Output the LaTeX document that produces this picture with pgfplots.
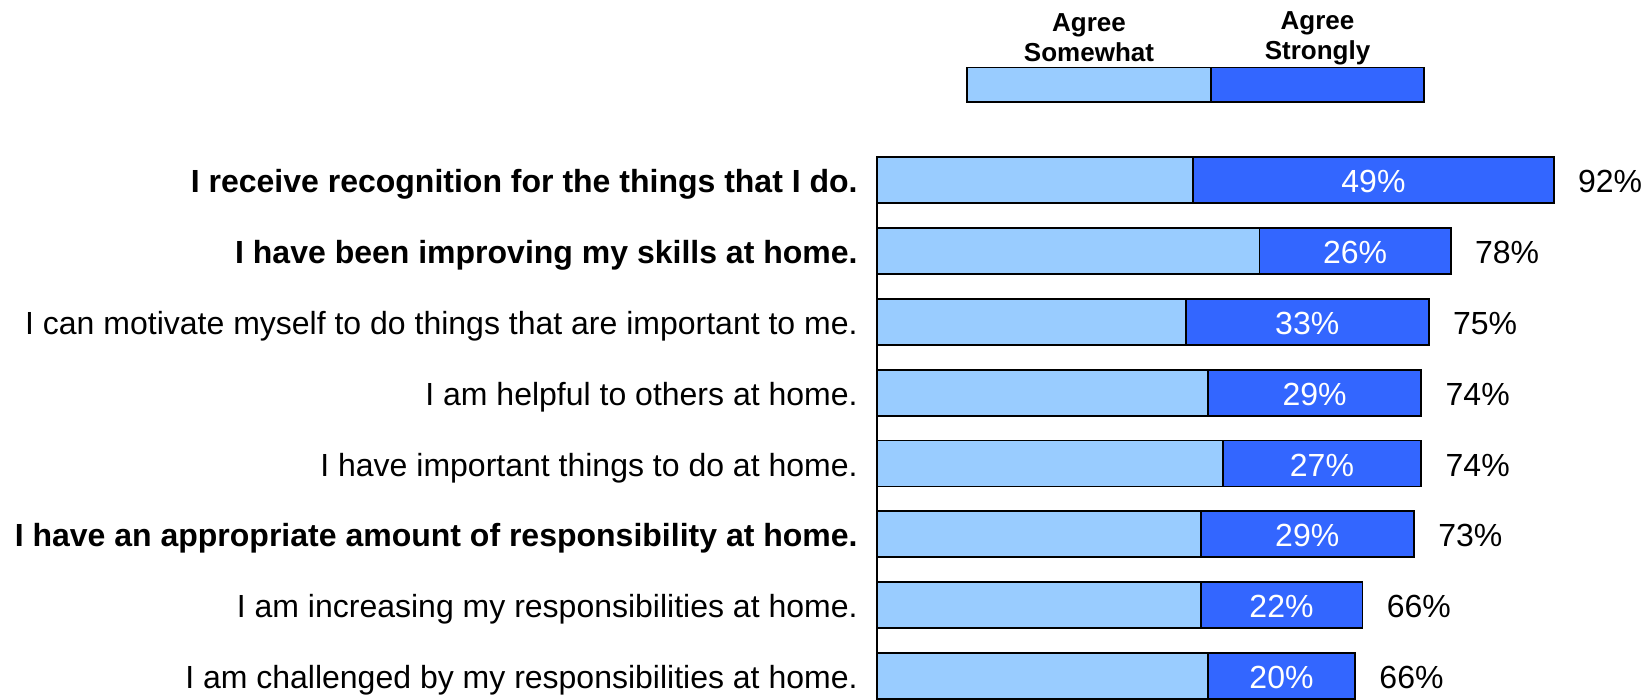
\documentclass[border=0pt]{standalone}
\usepackage{pgfplots}
\pgfplotsset{compat=1.18}
\usepackage{pgfplotstable}
\usepackage{fontspec}
\setmainfont{Liberation Sans}
\definecolor{somewhat}{HTML}{99CCFF}
\definecolor{strongly}{HTML}{3366FF}
\pgfplotstableread{
idx some strong total
0 43 49 92
1 52 26 78
2 42 33 75
3 45 29 74
4 47 27 74
5 44 29 73
6 44 22 66
7 45 20 66
}\datatable
\pgfplotsset{
  frame/.style={
    at={(438.5pt,-72.3pt)}, anchor=north west,
    scale only axis, width=367.75pt, height=277.4pt,
    xmin=0, xmax=100, ymin=-0.5, ymax=7.33,
    y dir=reverse, clip=false,
  }
}
\begin{document}
\begin{tikzpicture}
\useasboundingbox (0,0) rectangle (825.5pt,-350pt);
\begin{axis}[
  frame,
  xbar stacked, bar width=23pt,
  axis line style={draw=none},
  major tick length=0pt,
  xtick=\empty,
  ytick={0,...,7},
  yticklabels={{\textbf{I receive recognition for the things that I do.}},
               {\textbf{I have been improving my skills at home.}},
               {I can motivate myself to do things that are important to me.},
               {I am helpful to others at home.},
               {I have important things to do at home.},
               {\textbf{I have an appropriate amount of responsibility at home.}},
               {I am increasing my responsibilities at home.},
               {I am challenged by my responsibilities at home.}},
  yticklabel style={anchor=base east, inner sep=0pt, xshift=-9.5pt, yshift=-6.3pt,
     font=\fontsize{16}{19}\selectfont},
]
\addplot[fill=somewhat, draw=black, line width=0.9pt] table[x=some, y=idx] {\datatable};
\addplot[fill=strongly, draw=black, line width=0.9pt,
  point meta=explicit symbolic,
  nodes near coords={\pgfplotspointmeta\%},
  every node near coord/.append style={anchor=base, inner sep=0pt, text=white,
     font=\fontsize{16}{19}\selectfont, yshift=-6.3pt}]
  table[x=strong, y=idx, meta=strong] {\datatable};
\draw[line width=0.9pt] (axis cs:0,-0.325) -- (axis cs:0,7.1);
\end{axis}
\begin{axis}[frame, hide axis]
\addplot[only marks, mark=none,
  point meta=explicit symbolic,
  nodes near coords={\pgfplotspointmeta\%},
  every node near coord/.append style={anchor=base west, inner sep=0pt, text=black,
     font=\fontsize{16}{19}\selectfont, xshift=12pt, yshift=-6.3pt}]
  table[x expr=\thisrow{some}+\thisrow{strong}, y=idx, meta=total] {\datatable};
\end{axis}
% legend
\draw[line width=0.75pt, fill=somewhat] (483.5pt,-33.7pt) rectangle (605.5pt,-51pt);
\draw[line width=0.75pt, fill=strongly] (605.5pt,-33.7pt) rectangle (712pt,-51pt);
\begin{scope}[every node/.style={font=\bfseries\fontsize{13}{15.5}\selectfont, anchor=base, inner sep=0pt}]
\node at (544.5pt,-15.75pt) {Agree};
\node at (544.5pt,-31pt) {Somewhat};
\node at (658.75pt,-14.75pt) {Agree};
\node at (658.75pt,-30pt) {Strongly};
\end{scope}
\end{tikzpicture}
\end{document}
